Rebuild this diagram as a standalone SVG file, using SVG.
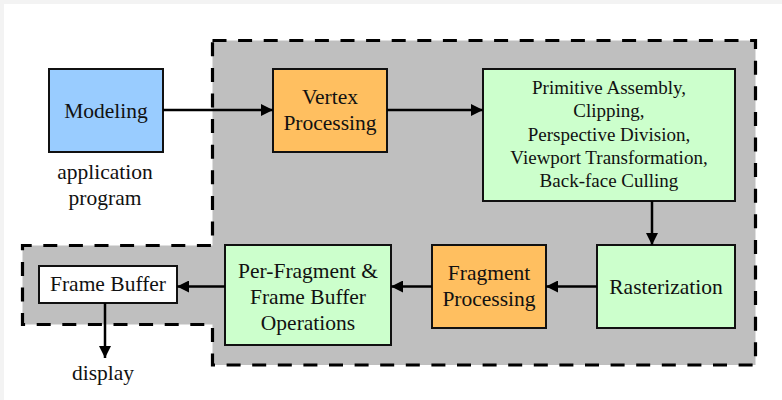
<svg xmlns="http://www.w3.org/2000/svg" width="782" height="400" viewBox="0 0 782 400">
  <defs>
    <style>
      .box { stroke: #111; stroke-width: 2; }
      .blue { fill: #99ccff; }
      .orange { fill: #ffbf60; }
      .green { fill: #ccffcc; }
      .white { fill: #ffffff; }
      .region { fill: #bfbfbf; stroke: #000; stroke-width: 3.2; stroke-dasharray: 14 11.6; }
      .lbl { font-family: "Liberation Serif", "Times New Roman", serif; font-size: 21.5px; fill: #111; text-anchor: middle; }
      .sm { font-size: 19px; }
      .edge { stroke: #000; stroke-width: 2.5; fill: none; marker-end: url(#arrow); }
    </style>
    <marker id="arrow" viewBox="0 0 10 10" refX="10" refY="5" markerUnits="userSpaceOnUse" markerWidth="13" markerHeight="12" orient="auto">
      <path d="M0,0 L10,5 L0,10 Z" fill="#000"/>
    </marker>
  </defs>

  <!-- page -->
  <rect x="0" y="0" width="782" height="400" fill="#f3f3f3"/>
  <rect x="4" y="4" width="778" height="396" fill="#ffffff"/>

  <!-- graphics pipeline region -->
  <path class="region" d="M212.5,40.5 H755.5 V365 H212.5 V324.5 H22.5 V245.5 H212.5 Z"/>

  <g id="modeling">
    <rect class="box blue" x="49" y="69" width="114" height="83"/>
    <text class="lbl" x="106" y="118">Modeling</text>
  </g>
  <g id="application-label">
    <text class="lbl" x="105" y="179">application</text>
    <text class="lbl" x="105" y="205">program</text>
  </g>

  <g id="vertex-processing">
    <rect class="box orange" x="273" y="69" width="114" height="83"/>
    <text class="lbl" x="330" y="104">Vertex</text>
    <text class="lbl" x="330" y="130">Processing</text>
  </g>

  <g id="primitive-assembly">
    <rect class="box green" x="483" y="69" width="252" height="132"/>
    <text class="lbl sm" x="609" y="94">Primitive Assembly,</text>
    <text class="lbl sm" x="609" y="117.3">Clipping,</text>
    <text class="lbl sm" x="609" y="140.6">Perspective Division,</text>
    <text class="lbl sm" x="609" y="163.9">Viewport Transformation,</text>
    <text class="lbl sm" x="609" y="187.2">Back-face Culling</text>
  </g>

  <g id="rasterization">
    <rect class="box green" x="597" y="245" width="138" height="83"/>
    <text class="lbl" x="666" y="293.5">Rasterization</text>
  </g>

  <g id="fragment-processing">
    <rect class="box orange" x="432" y="245" width="114" height="83"/>
    <text class="lbl" x="489" y="280">Fragment</text>
    <text class="lbl" x="489" y="306">Processing</text>
  </g>

  <g id="per-fragment-ops">
    <rect class="box green" x="225" y="245" width="166" height="100"/>
    <text class="lbl" x="308" y="278.3">Per-Fragment &amp;</text>
    <text class="lbl" x="308" y="304.3">Frame Buffer</text>
    <text class="lbl" x="308" y="330.3">Operations</text>
  </g>

  <g id="frame-buffer">
    <rect class="box white" x="39" y="266" width="138" height="37"/>
    <text class="lbl" x="108" y="291">Frame Buffer</text>
  </g>
  <g id="display-label">
    <text class="lbl" x="103" y="380">display</text>
  </g>

  <g id="connectors">
    <line class="edge" x1="163" y1="110" x2="273" y2="110"/>
    <line class="edge" x1="387" y1="110" x2="483" y2="110"/>
    <line class="edge" x1="652" y1="201" x2="652" y2="245"/>
    <line class="edge" x1="597" y1="286.5" x2="546" y2="286.5"/>
    <line class="edge" x1="432" y1="286.5" x2="391" y2="286.5"/>
    <line class="edge" x1="225" y1="286.5" x2="177" y2="286.5"/>
    <line class="edge" x1="105" y1="303" x2="105" y2="358"/>
  </g>
</svg>
